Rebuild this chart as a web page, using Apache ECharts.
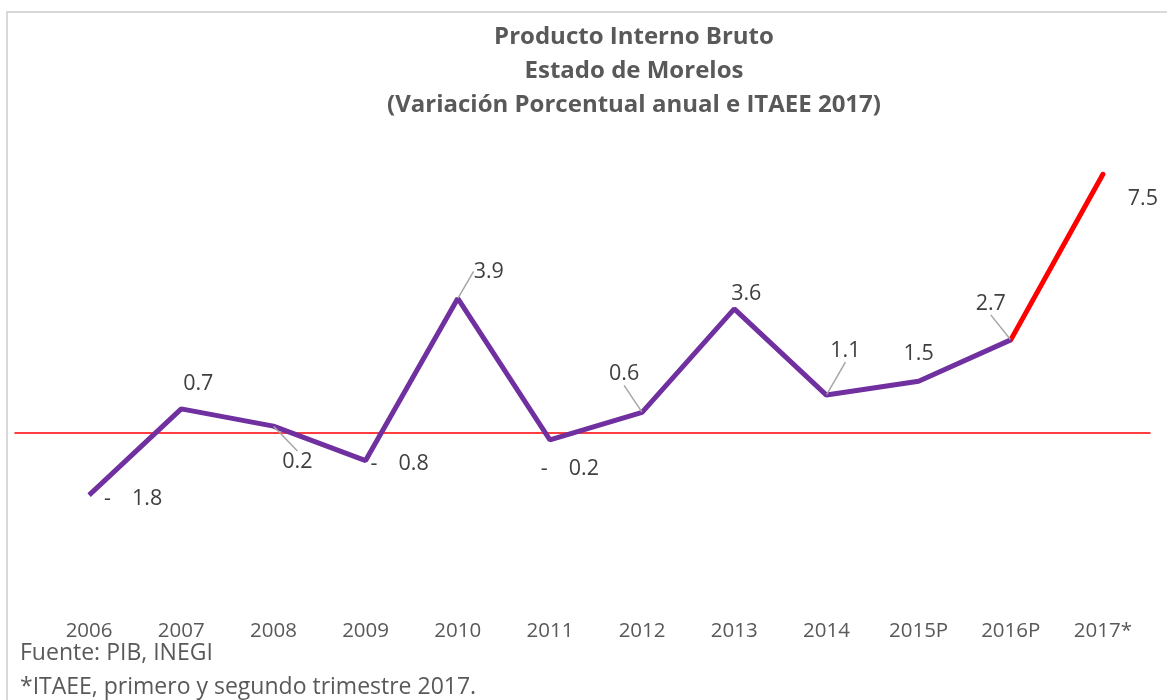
<!DOCTYPE html>
<html>
<head>
<meta charset="utf-8">
<script src="https://cdn.jsdelivr.net/npm/echarts@6/dist/echarts.min.js"></script>
<style>
  body { margin: 0; background: #fff; }
  #frame { position: absolute; left: 6px; top: 11px; width: 1300px; height: 800px; border: 2px solid #d9d9d9; }
  #chart { position: absolute; left: 0; top: 0; width: 1167px; height: 700px; }
</style>
</head>
<body>
<div id="frame"></div>
<div id="chart"></div>
<script>
// datos
const years = ['2006', '2007', '2008', '2009', '2010', '2011', '2012', '2013', '2014', '2015P', '2016P', '2017*']
const growth = [-1.8, 0.7, 0.2, -0.8, 3.9, -0.2, 0.6, 3.6, 1.1, 1.5, 2.7, 7.5]
const lastPibIndex = 10 // 2016P, luego viene el ITAEE

// desplazamiento de etiquetas (estilo Excel)
const labelDx = [44, 17, 24, 34, 31, 20, -18, 12, 19, 0, -20, 40]
const labelDy = [4, -25, 36, 3, -27, 29, -38, -15, -44, -27, -36, 25]
const leaderLines = [false, false, true, false, true, false, true, false, true, false, true, false]

const font = '"Open Sans", sans-serif'
const chart = echarts.init(document.getElementById('chart'))

const purpleData = growth.map((v, i) => (i <= lastPibIndex ? v : '-'))
const redData = growth.map((v, i) => (i >= lastPibIndex ? v : '-'))
const labelData = growth.map((v, i) => ({ value: v, labelLine: { show: leaderLines[i] } }))

chart.setOption({
  animation: false,
  title: [
    {
      text: 'Producto Interno Bruto\nEstado de Morelos\n(Variación Porcentual anual e ITAEE 2017)',
      left: 634,
      textAlign: 'center',
      top: 20,
      padding: 0,
      textStyle: { fontFamily: font, fontSize: 24, fontWeight: 'bold', color: '#595959', lineHeight: 34 }
    },
    {
      text: 'Fuente: PIB, INEGI\n*ITAEE, primero y segundo trimestre 2017.',
      left: 20,
      top: 636,
      padding: 0,
      textStyle: { fontFamily: font, fontSize: 23, fontWeight: 'normal', color: '#595959', lineHeight: 34 }
    }
  ],
  grid: [
    { left: 43, right: 18, top: 157, height: 414 },
    { left: 15, right: 17, top: 157, height: 414 }
  ],
  xAxis: [
    {
      type: 'category',
      data: years,
      gridIndex: 0,
      boundaryGap: true,
      axisLine: { show: false },
      axisTick: { show: false },
      axisLabel: { margin: 50, fontFamily: font, fontSize: 20.5, color: '#595959' }
    },
    {
      type: 'value',
      gridIndex: 1,
      min: 0,
      max: 1,
      axisLine: { show: true, onZero: true, lineStyle: { color: '#ff0000', width: 1.5 } },
      axisTick: { show: false },
      axisLabel: { show: false },
      splitLine: { show: false }
    }
  ],
  yAxis: [
    { type: 'value', gridIndex: 0, min: -4, max: 8, show: false },
    { type: 'value', gridIndex: 1, min: -4, max: 8, show: false }
  ],
  series: [
    {
      name: 'PIB',
      type: 'line',
      data: purpleData,
      symbol: 'none',
      lineStyle: { color: '#7030a0', width: 5 },
      z: 3
    },
    {
      name: 'ITAEE',
      type: 'line',
      data: redData,
      symbol: 'none',
      lineStyle: { color: '#ff0000', width: 5, cap: 'round' },
      z: 2
    },
    {
      name: 'etiquetas',
      type: 'line',
      data: labelData,
      symbol: 'circle',
      symbolSize: 1,
      itemStyle: { color: 'rgba(0,0,0,0)' },
      lineStyle: { width: 0, opacity: 0 },
      z: 4,
      label: {
        show: true,
        position: 'inside',
        formatter: function (p) {
          const v = p.value
          if (v < 0) {
            return '{d|-}{n|' + Math.abs(v).toFixed(1) + '}'
          }
          return '{n|' + v.toFixed(1) + '}'
        },
        rich: {
          d: { width: 28, align: 'left', fontFamily: font, fontSize: 21.5, color: '#404040' },
          n: { fontFamily: font, fontSize: 21.5, color: '#404040' }
        }
      },
      labelLine: { show: true, lineStyle: { color: '#a6a6a6', width: 1.5 } },
      labelLayout: function (params) {
        return { dx: labelDx[params.dataIndex], dy: labelDy[params.dataIndex] }
      }
    }
  ]
})
</script>
</body>
</html>
